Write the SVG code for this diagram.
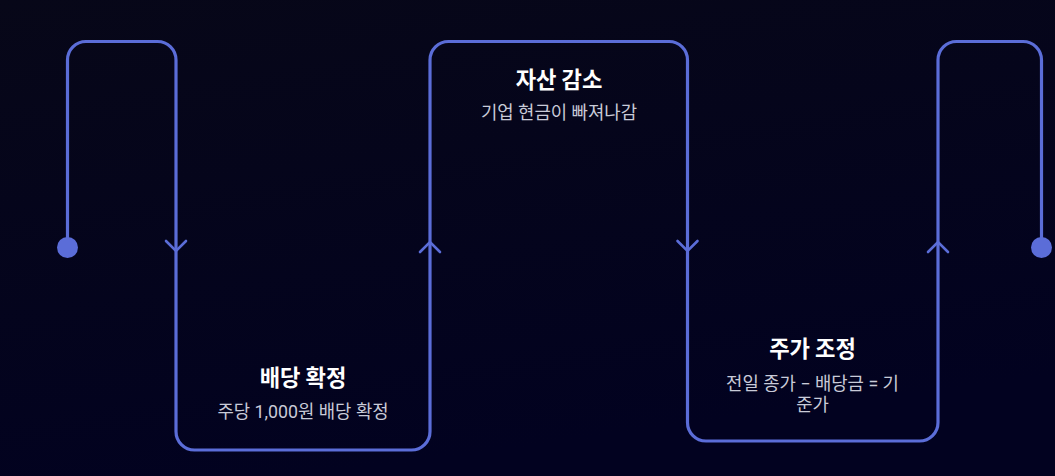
<svg xmlns="http://www.w3.org/2000/svg" width="1055" height="476" viewBox="0 0 1055 476">
  <defs>
    <linearGradient id="bg" x1="0" y1="0" x2="0.3" y2="1">
      <stop offset="0" stop-color="#070718"/>
      <stop offset="1" stop-color="#020220"/>
    </linearGradient>
    <style>
      .flow { fill: none; stroke: #5b6dd8; stroke-width: 3.2; stroke-linejoin: round; stroke-linecap: round; }
      .chev { fill: none; stroke: #5b6dd8; stroke-width: 2.6; stroke-linecap: round; stroke-linejoin: miter; }
      .dot { fill: #5b6dd8; }
      .title { font-family: "Noto Sans CJK KR", "Noto Sans", sans-serif; font-size: 22.2px; font-weight: 700; fill: #ffffff; text-anchor: middle; }
      .sub { font-family: Roboto, "Noto Sans CJK KR", sans-serif; font-size: 17.8px; fill: #c9cbd8; text-anchor: middle; }
    </style>
  </defs>
  <rect width="1055" height="476" fill="url(#bg)"/>

  <g id="connectors">
    <path class="flow" d="M67.5,247 V60 A18.5,18.5 0 0 1 86,41.5 H157.5 A18.5,18.5 0 0 1 176,60 V431.5 A18.5,18.5 0 0 0 194.5,450 H411.5 A18.5,18.5 0 0 0 430,431.5 V60 A18.5,18.5 0 0 1 448.5,41.5 H669 A18.5,18.5 0 0 1 687.5,60 V422.5 A18.5,18.5 0 0 0 706,441 H919.5 A18.5,18.5 0 0 0 938,422.5 V60 A18.5,18.5 0 0 1 956.5,41.5 H1023 A18.5,18.5 0 0 1 1041.5,60 V247"/>
    <polyline class="chev" points="166,241 176,251 186,241"/>
    <polyline class="chev" points="420,252 430,242 440,252"/>
    <polyline class="chev" points="677.5,241 687.5,251 697.5,241"/>
    <polyline class="chev" points="928,252 938,242 948,252"/>
    <circle class="dot" cx="67.5" cy="247.5" r="10.5"/>
    <circle class="dot" cx="1041.5" cy="247.5" r="10.5"/>
  </g>

  <g id="node-dividend">
    <text class="title" x="303" y="386">배당 확정</text>
    <text class="sub" x="303" y="418">주당 1,000원 배당 확정</text>
  </g>

  <g id="node-asset">
    <text class="title" x="559" y="88">자산 감소</text>
    <text class="sub" x="559" y="119">기업 현금이 빠져나감</text>
  </g>

  <g id="node-price">
    <text class="title" x="812.5" y="357">주가 조정</text>
    <text class="sub" x="812.5" y="390">전일 종가 − 배당금 = 기</text>
    <text class="sub" x="812.5" y="411">준가</text>
  </g>
</svg>
